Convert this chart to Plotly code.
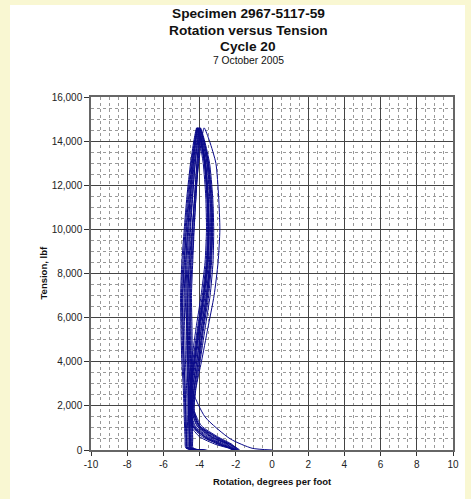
import plotly.graph_objects as go

# Tension path shared by every cycle (lbf): load up, then unload
tension = [0, 80, 500, 1500, 2800, 4000, 5500, 7000, 8500, 10000, 11500, 13000, 14000, 14600,
           14000, 13000, 11500, 10000, 8500, 7000, 5500, 4000, 2800, 1800, 1100, 600, 250, 0]

# Rotation (degrees per foot) read for each cycle along the tension path
rot_c01 = [0.0, -1.1, -2.3, -3.7, -4.45, -4.62, -4.7, -4.8, -4.75, -4.65, -4.5, -4.34, -4.2, -4.1, -3.92, -3.72, -3.58, -3.52, -3.6, -3.78, -4.02, -4.28, -4.48, -4.52, -4.35, -3.7, -2.8, -2.1]
rot_c02 = [-1.95, -4.4, -4.42, -4.45, -4.45, -4.45, -4.48, -4.5, -4.42, -4.32, -4.2, -4.1, -4.02, -3.98, -3.75, -3.5, -3.32, -3.28, -3.34, -3.5, -3.78, -4.02, -4.28, -4.35, -4.0, -3.1, -2.3, -1.95]
rot_c03 = [-2.1, -4.7, -4.75, -4.8, -4.85, -4.92, -4.97, -5.0, -4.92, -4.8, -4.65, -4.46, -4.28, -4.14, -3.95, -3.74, -3.6, -3.56, -3.64, -3.85, -4.12, -4.38, -4.56, -4.58, -4.42, -3.85, -2.9, -2.1]
rot_c04 = [-1.9, -4.35, -4.38, -4.4, -4.38, -4.4, -4.42, -4.45, -4.38, -4.3, -4.2, -4.08, -4.0, -3.95, -3.72, -3.45, -3.28, -3.22, -3.26, -3.42, -3.7, -3.98, -4.22, -4.3, -3.9, -3.0, -2.2, -1.9]
rot_c05 = [-2.05, -4.75, -4.8, -4.85, -4.9, -4.98, -5.03, -5.05, -4.98, -4.85, -4.7, -4.5, -4.32, -4.16, -4.0, -3.8, -3.66, -3.62, -3.7, -3.92, -4.2, -4.45, -4.62, -4.62, -4.5, -4.0, -3.1, -2.05]
rot_c06 = [-2.0, -4.55, -4.58, -4.6, -4.65, -4.7, -4.72, -4.75, -4.7, -4.6, -4.45, -4.3, -4.15, -4.06, -3.88, -3.66, -3.52, -3.46, -3.52, -3.7, -3.98, -4.22, -4.45, -4.48, -4.25, -3.5, -2.6, -2.0]
rot_c07 = [-2.25, -4.45, -4.5, -4.52, -4.52, -4.55, -4.56, -4.58, -4.5, -4.4, -4.28, -4.15, -4.05, -4.0, -3.78, -3.52, -3.36, -3.3, -3.38, -3.56, -3.82, -4.08, -4.32, -4.38, -4.05, -3.2, -2.45, -2.25]
rot_c08 = [-1.85, -4.5, -4.55, -4.6, -4.62, -4.65, -4.66, -4.66, -4.56, -4.42, -4.25, -4.05, -3.9, -3.75, -3.45, -3.1, -2.95, -2.88, -2.98, -3.2, -3.55, -3.9, -4.2, -4.3, -4.0, -3.1, -2.3, -1.85]
rot_c09 = [-2.0, -4.65, -4.7, -4.75, -4.8, -4.86, -4.92, -4.95, -4.86, -4.75, -4.6, -4.42, -4.26, -4.12, -3.94, -3.72, -3.58, -3.52, -3.58, -3.78, -4.06, -4.32, -4.52, -4.54, -4.4, -3.75, -2.95, -2.0]
rot_c10 = [-1.95, -4.42, -4.46, -4.48, -4.48, -4.5, -4.52, -4.54, -4.47, -4.38, -4.27, -4.15, -4.05, -3.98, -3.76, -3.54, -3.38, -3.34, -3.4, -3.58, -3.84, -4.08, -4.3, -4.36, -4.05, -3.3, -2.4, -1.95]
rot_c11 = [-2.05, -4.6, -4.64, -4.68, -4.72, -4.78, -4.82, -4.85, -4.78, -4.66, -4.52, -4.36, -4.22, -4.1, -3.9, -3.68, -3.54, -3.48, -3.55, -3.74, -4.02, -4.27, -4.48, -4.5, -4.3, -3.6, -2.7, -2.05]
rot_c12 = [-1.8, -4.5, -4.54, -4.58, -4.58, -4.6, -4.62, -4.64, -4.58, -4.5, -4.38, -4.25, -4.12, -4.04, -3.84, -3.6, -3.45, -3.4, -3.46, -3.64, -3.92, -4.16, -4.4, -4.44, -4.15, -3.4, -2.3, -1.8]
rot_c13 = [-2.15, -4.68, -4.72, -4.76, -4.8, -4.86, -4.9, -4.92, -4.84, -4.72, -4.56, -4.4, -4.24, -4.1, -3.9, -3.68, -3.54, -3.5, -3.58, -3.8, -4.08, -4.32, -4.52, -4.55, -4.38, -3.7, -2.8, -2.15]
rot_c14 = [-2.0, -4.52, -4.56, -4.6, -4.62, -4.66, -4.68, -4.7, -4.64, -4.54, -4.4, -4.24, -4.1, -4.02, -3.82, -3.58, -3.42, -3.36, -3.44, -3.62, -3.9, -4.15, -4.38, -4.42, -4.12, -3.35, -2.5, -2.0]

cycles = [rot_c01, rot_c02, rot_c03, rot_c04, rot_c05, rot_c06, rot_c07,
          rot_c08, rot_c09, rot_c10, rot_c11, rot_c12, rot_c13, rot_c14]

x_tick_vals = [-10, -8, -6, -4, -2, 0, 2, 4, 6, 8, 10]
x_tick_text = ["-10", "-8", "-6", "-4", "-2", "0", "2", "4", "6", "8", "10"]
y_tick_vals = [0, 2000, 4000, 6000, 8000, 10000, 12000, 14000, 16000]
y_tick_text = ["0", "2,000", "4,000", "6,000", "8,000", "10,000", "12,000", "14,000", "16,000"]

title_lines = ["Specimen 2967-5117-59", "Rotation versus Tension", "Cycle 20"]
subtitle = "7 October 2005"
x_title = "Rotation, degrees per foot"
y_title = "Tension, lbf"

FONT = "Liberation Sans, Arial, sans-serif"
W, H = 471, 499
L, R, T, B = 91, 18, 97, 49
PW, PH = W - L - R, H - T - B
BG = "#F9F7D2"

def px_x(px):
    return (px - L) / PW

def px_y(py):
    return 1 + (T - py) / PH

fig = go.Figure()
for rot in cycles:
    fig.add_trace(go.Scatter(x=rot, y=tension, mode="lines",
                             line=dict(color="#0a0a8a", width=1, shape="spline", smoothing=0.6),
                             showlegend=False, hoverinfo="skip"))

annotations = []
for i, txt in enumerate(title_lines):
    annotations.append(dict(text="<b>%s</b>" % txt, x=px_x(248), y=px_y(14 + 16 * i),
                            xref="paper", yref="paper", showarrow=False,
                            xanchor="center", yanchor="middle",
                            font=dict(family=FONT, size=13.7, color="#111")))
annotations.append(dict(text=subtitle, x=px_x(248), y=px_y(61), xref="paper", yref="paper",
                        showarrow=False, xanchor="center", yanchor="middle",
                        font=dict(family=FONT, size=10.3, color="#111")))
annotations.append(dict(text="<b>%s</b>" % x_title, x=0.5, y=px_y(481), xref="paper", yref="paper",
                        showarrow=False, xanchor="center", yanchor="middle",
                        font=dict(family=FONT, size=9.5, color="#111")))
annotations.append(dict(text="<b>%s</b>" % y_title, x=px_x(43), y=0.5, xref="paper", yref="paper",
                        showarrow=False, xanchor="center", yanchor="middle", textangle=-90,
                        font=dict(family=FONT, size=9.5, color="#111")))

fig.update_layout(
    width=W, height=H,
    margin=dict(l=L, r=R, t=T, b=B, pad=0),
    paper_bgcolor=BG,
    plot_bgcolor="white",
    annotations=annotations,
    shapes=[dict(type="rect", xref="paper", yref="paper",
                 x0=px_x(10), x1=px_x(465), y0=px_y(520), y1=px_y(5),
                 fillcolor="white", line=dict(width=0), layer="below")],
    font=dict(family=FONT, size=10, color="#222"),
)
fig.update_xaxes(range=[-10, 10], tickvals=x_tick_vals, ticktext=x_tick_text,
                 showgrid=True, gridcolor="#444", gridwidth=1,
                 zeroline=False, showline=True, linecolor="#666", linewidth=1.5, mirror=True,
                 ticks="outside", ticklen=4, tickcolor="#333",
                 tickfont=dict(family=FONT, size=10, color="#222"),
                 minor=dict(dtick=0.5, tick0=0, showgrid=True, gridcolor="#999",
                            griddash="3px,3px", gridwidth=1))
fig.update_yaxes(range=[0, 16000], tickvals=y_tick_vals, ticktext=y_tick_text,
                 showgrid=True, gridcolor="#444", gridwidth=1,
                 zeroline=False, showline=True, linecolor="#666", linewidth=1.5, mirror=True,
                 ticks="outside", ticklen=5, tickcolor="#333",
                 tickfont=dict(family=FONT, size=10, color="#222"),
                 minor=dict(dtick=500, tick0=0, showgrid=True, gridcolor="#999",
                            griddash="3px,3px", gridwidth=1))

fig.write_html("out.html", config={"displayModeBar": False},
               post_script="document.body.style.margin='0';document.body.style.background='%s';" % BG)
